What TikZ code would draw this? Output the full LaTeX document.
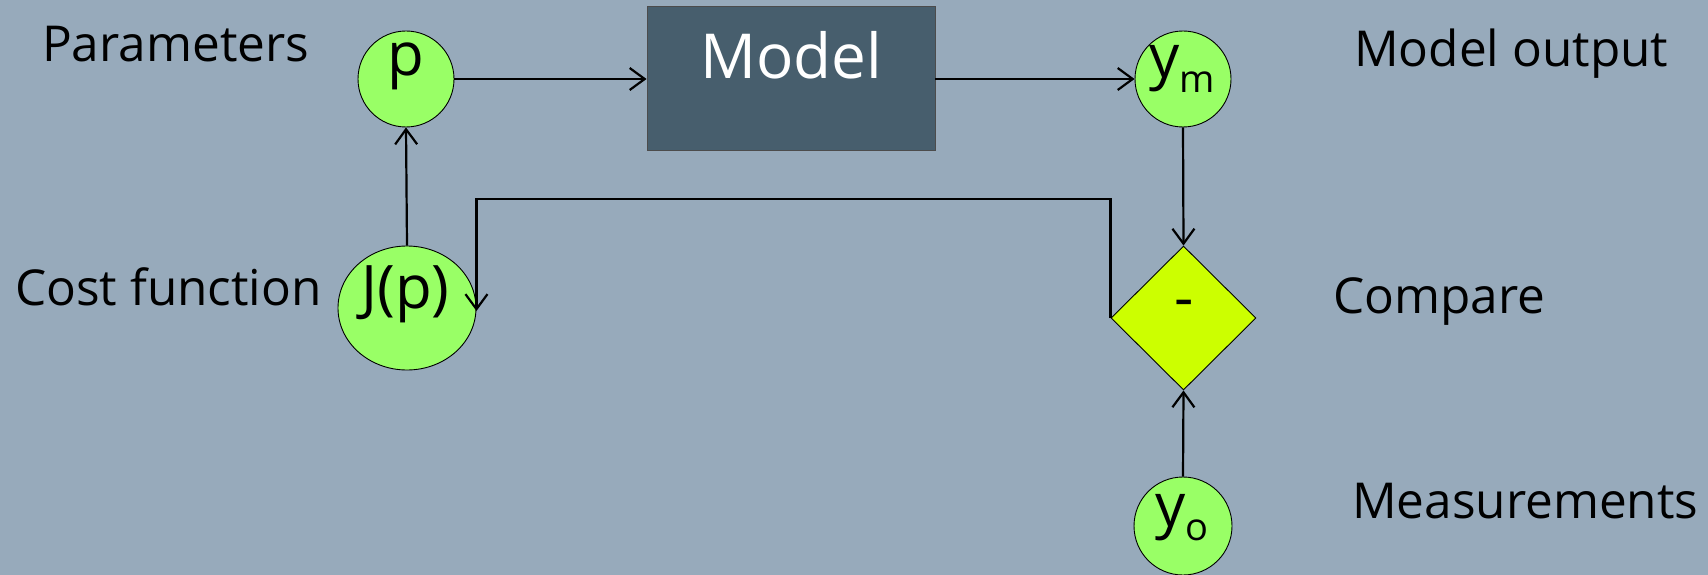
\documentclass[tikz,border=0pt]{standalone}
\usepackage{fontspec}
\setmainfont{Open Sans}
\usetikzlibrary{arrows.meta,shapes.geometric}
\definecolor{bgc}{HTML}{97AABB}
\definecolor{modelc}{HTML}{475E6D}
\definecolor{greenc}{HTML}{99FF66}
\definecolor{diac}{HTML}{CCFF00}
\newcommand\LblF{\fontsize{49.5}{50}\selectfont}
\newcommand\NodeF{\fontsize{60}{60}\selectfont}
\newcommand\SubF{\fontsize{38}{38}\selectfont}
\begin{document}
\begin{tikzpicture}[x=1pt,y=-1pt,
  lbl/.style={font=\LblF, inner sep=0, anchor=base west},
  ntxt/.style={font=\NodeF, inner sep=0, anchor=base},
  circ/.style={circle, draw=black, line width=0.9pt, fill=greenc, inner sep=0},
  arr/.style={line width=2.2pt, -{Straight Barb[length=15pt,width=22pt]}},
  plain/.style={line width=2.2pt}]
\fill[bgc] (0,0) rectangle (1708,575);
\useasboundingbox (0,0) rectangle (1708,575);

% labels
\node[lbl] (lpar) at (42,62) {Parameters};
\node[lbl] (lcost) at (15,305) {Cost function};
\node[lbl] (lout) at (1354,67) {Model output};
\node[lbl] (lcmp) at (1333,313) {Compare};
\node[lbl] (lmeas) at (1352,518) {Measurements};

% shapes
\node[circ, minimum size=96pt] (p) at (406,79) {};
\node[draw=black!70, line width=0.9pt, fill=modelc, minimum width=288pt, minimum height=144pt, inner sep=0] (model) at (791,78.4) {};
\node[circ, minimum size=96pt] (ym) at (1183,79) {};
\node[ellipse, draw=black, line width=0.9pt, fill=greenc, minimum width=138pt, minimum height=124pt, inner sep=0] (J) at (407,308) {};
\node[diamond, draw=black, line width=0.9pt, fill=diac, minimum width=145pt, minimum height=144pt, inner sep=0] (cmp) at (1183.5,318) {};
\node[circ, minimum size=98pt] (yo) at (1183,526) {};

% texts in shapes
\node[ntxt] (ptxt) at (406,76) {p};
\node[inner sep=0, anchor=base, text=white, font=\fontsize{62}{62}\selectfont] (mtxt) at (791,79) {Model};
\node[ntxt] (jtxt) at (405.5,308) {J(p)};
\node[ntxt] (ymtxt) at (1182,78) {y\raisebox{-15pt}{\SubF m}};
\node[ntxt] (yotxt) at (1182,526) {y\raisebox{-14pt}{\SubF o}};
\node[ntxt] (dash) at (1184,318) {-};

% connectors
\draw[arr] (p.east) -- (model.west |- p.east);
\draw[arr] (model.east |- ym.west) -- (ym.west);
\draw[arr] (ym.south) -- (cmp.north);
\draw[arr] (yo.north) -- (cmp.south);
\draw[arr] (J.north) -- (p.south);
\draw[arr] (cmp.west) -- ++(0,-119) -| ([yshift=-3pt]J.east);
\end{tikzpicture}
\end{document}
